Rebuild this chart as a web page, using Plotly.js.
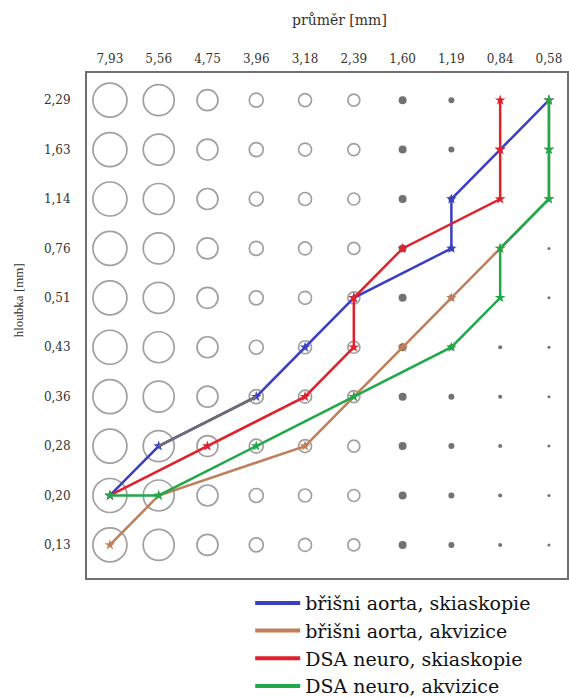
<!DOCTYPE html>
<html>
<head>
<meta charset="utf-8">
<script src="https://cdn.plot.ly/plotly-3.0.1.min.js"></script>
<style>html,body{margin:0;padding:0;background:#fff;}#chart{width:569px;height:697px;}</style>
</head>
<body>
<div id="chart"></div>
<script>
// Categories
var diameters = ["7,93","5,56","4,75","3,96","3,18","2,39","1,60","1,19","0,84","0,58"];
var depths = ["0,13","0,20","0,28","0,36","0,43","0,51","0,76","1,14","1,63","2,29"];

// Series (threshold contrast-detail curves)
var blueX = ["7,93","5,56","3,96","3,18","2,39","1,19","1,19","0,84","0,58"];
var blueY = ["0,20","0,28","0,36","0,43","0,51","0,76","1,14","1,63","2,29"];
var brownX = ["7,93","5,56","3,18","2,39","1,60","1,19","0,84","0,58","0,58","0,58"];
var brownY = ["0,13","0,20","0,28","0,36","0,43","0,51","0,76","1,14","1,63","2,29"];
var redX = ["7,93","4,75","3,18","2,39","2,39","1,60","0,84","0,84","0,84"];
var redY = ["0,20","0,28","0,36","0,43","0,51","0,76","1,14","1,63","2,29"];
var greenX = ["7,93","5,56","3,96","2,39","1,19","0,84","0,84","0,58","0,58","0,58"];
var greenY = ["0,20","0,20","0,28","0,36","0,43","0,51","0,76","1,14","1,63","2,29"];

var seriesNames = ["břišni aorta, skiaskopie","břišni aorta, akvizice","DSA neuro, skiaskopie","DSA neuro, akvizice"];

// styles
var seriesColors = ['#3b3fc2','#bf7f5a','#e1202c','#20a84a'];
var phantomSizes = [34,31,21,14,13,12,8,6,4,3];
var openCols = 6;
var wide = "'DejaVu Serif', serif";
var serif = "'Liberation Serif', serif";

var ox=[], oy=[], os=[], fx=[], fy=[], fs=[];
for (var i=0;i<diameters.length;i++){
  for (var j=0;j<depths.length;j++){
    if (i<openCols){ ox.push(diameters[i]); oy.push(depths[j]); os.push(phantomSizes[i]); }
    else { fx.push(diameters[i]); fy.push(depths[j]); fs.push(phantomSizes[i]); }
  }
}

function line(x,y,color){
  return {x:x,y:y,type:'scatter',mode:'lines+markers',showlegend:false,
    line:{color:color,width:2.5},
    marker:{symbol:'star',size:8,color:color},
    hoverinfo:'skip'};
}
function legendEntry(name,color){
  return {x:[null],y:[null],name:name,type:'scatter',mode:'lines',showlegend:true,
    line:{color:color,width:4},hoverinfo:'skip'};
}

var traces = [
  {x:ox,y:oy,type:'scatter',mode:'markers',showlegend:false,hoverinfo:'skip',
   marker:{symbol:'circle-open',size:os,color:'#777777',line:{width:1.7,color:'#777777'}}},
  {x:fx,y:fy,type:'scatter',mode:'markers',showlegend:false,hoverinfo:'skip',
   marker:{symbol:'circle',size:fs,color:'#363636',line:{width:0}}},
  line(blueX,blueY,seriesColors[0]),
  {x:blueX.slice(1,3),y:blueY.slice(1,3),type:'scatter',mode:'lines',showlegend:false,hoverinfo:'skip',
   line:{color:'#6e6e6e',width:2.5}},
  line(brownX,brownY,seriesColors[1]),
  line(redX,redY,seriesColors[2]),
  line(greenX,greenY,seriesColors[3])
];
for (var k=0;k<seriesNames.length;k++) traces.push(legendEntry(seriesNames[k],seriesColors[k]));

var layout = {
  width:569,height:697,
  margin:{l:87,r:2,t:73,b:119,autoexpand:false},
  paper_bgcolor:'#fff',plot_bgcolor:'#fff',
  font:{family:wide,color:'#222'},
  xaxis:{type:'category',categoryorder:'array',categoryarray:diameters,
    side:'top',range:[-0.47,9.37],showgrid:false,zeroline:false,
    showline:true,mirror:true,linecolor:'#6f6f6f',linewidth:2,
    ticks:'',ticklabelstandoff:3,tickfont:{family:wide,size:12,color:'#333'},fixedrange:true,automargin:false},
  yaxis:{type:'category',categoryorder:'array',categoryarray:depths,
    range:[-0.67,9.55],showgrid:false,zeroline:false,
    showline:true,mirror:true,linecolor:'#6f6f6f',linewidth:2,
    ticks:'',ticklabelstandoff:12,tickfont:{family:wide,size:12,color:'#333'},fixedrange:true,automargin:false},
  showlegend:true,
  legend:{x:0.34,xanchor:'left',y:-0.012,yanchor:'top',
    font:{family:wide,size:19,color:'#111'},bgcolor:'rgba(0,0,0,0)',
    tracegroupgap:0,itemwidth:45},
  annotations:[
    {text:'průměr [mm]',xref:'paper',yref:'paper',x:0.525,y:1,yshift:53,xanchor:'center',yanchor:'middle',
     showarrow:false,font:{family:wide,size:14,color:'#333'}},
    {text:'hloubka [mm]',xref:'paper',yref:'paper',x:0,xshift:-69,y:0.55,xanchor:'center',yanchor:'middle',
     textangle:-90,showarrow:false,font:{family:serif,size:13,color:'#333'}}
  ]
};

Plotly.newPlot('chart',traces,layout,{displayModeBar:false,staticPlot:true});
</script>
</body>
</html>
